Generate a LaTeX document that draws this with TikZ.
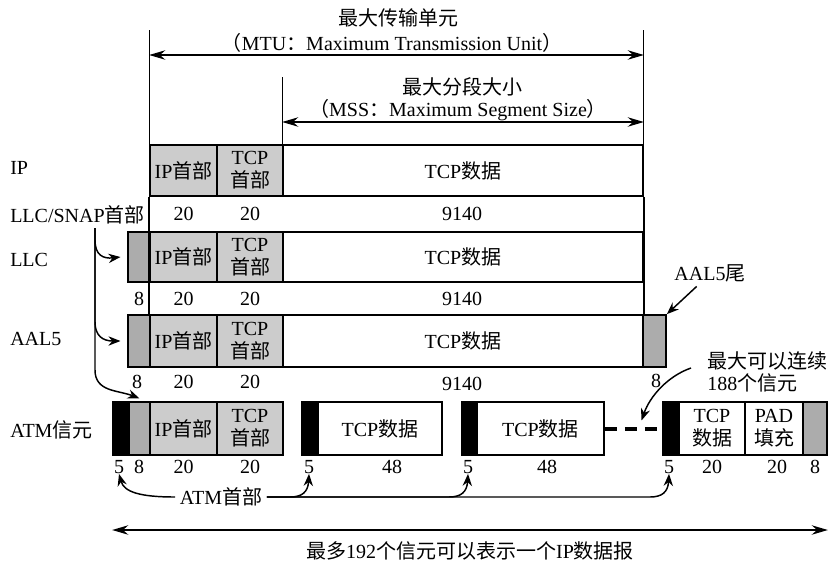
\documentclass[tikz,border=0pt]{standalone}
\usepackage{fontspec}
\setmainfont{Liberation Serif}
\newfontfamily\cjk{Noto Sans CJK SC}
\usetikzlibrary{arrows.meta,positioning,fit,calc}
\newcommand{\zh}[1]{{\cjk #1}}

\begin{document}
\begin{tikzpicture}[
        x=0.75pt, y=-0.75pt,
        font=\fontsize{15}{17}\selectfont,
        every label/.style = {align=center, inner sep=0pt},
        box/.style = {draw, line width=1.3pt, inner sep=0pt},
        hdr/.style = {box, fill=gray!40},
        snap/.style = {box, fill=gray!65},
        cellhdr/.style = {box, fill=black},
        datbox/.style = {box, fill=white},
        num/.style = {inner sep=0pt},
        lbl/.style = {anchor=west, inner sep=0pt},
        guide/.style = {line width=0.7pt},
        arr/.style = {-{Stealth[length=9pt,width=7pt]}, line width=1.1pt},
        spanarr/.style = {{Stealth[length=12pt,width=7pt]}-{Stealth[length=12pt,width=7pt]}, line width=1.6pt}
    ]
    \useasboundingbox (0,0) rectangle (832,562);

    % Titles MTU / MSS
    \node (mtuTitle) at (398,18) {\zh{最大传输单元}};
    \node (mtuName) at (392,43) {\zh{（}MTU\zh{：}Maximum Transmission Unit\zh{）}};
    \node (mssTitle) at (462,87) {\zh{最大分段大小}};
    \node (mssName) at (458,110) {\zh{（}MSS\zh{：}Maximum Segment Size\zh{）}};

    % IP row
    \node [hdr, fit={(150,145) (217,196)}, label={center:IP\zh{首部}}] (ipH) {};
    \node [hdr, fit={(217,145) (283,196)}, label={center:TCP\\\zh{首部}}] (ipT) {};
    \node [datbox, fit={(283,145) (643,196)}, label={center:TCP\zh{数据}}] (ipD) {};

    % LLC row
    \node [snap, fit={(128,232) (150,282)}] (llcS) {};
    \node [hdr, fit={(150,232) (217,282)}, label={center:IP\zh{首部}}] (llcH) {};
    \node [hdr, fit={(217,232) (283,282)}, label={center:TCP\\\zh{首部}}] (llcT) {};
    \node [datbox, fit={(283,232) (643,282)}, label={center:TCP\zh{数据}}] (llcD) {};

    % AAL5 row
    \node [snap, fit={(128,315) (150,367)}] (aS) {};
    \node [hdr, fit={(150,315) (217,367)}, label={center:IP\zh{首部}}] (aH) {};
    \node [hdr, fit={(217,315) (283,367)}, label={center:TCP\\\zh{首部}}] (aT) {};
    \node [datbox, fit={(283,315) (643,367)}, label={center:TCP\zh{数据}}] (aD) {};
    \node [snap, fit={(643,315) (666,367)}] (aTr) {};

    % table sides
    \draw [box] (ipH.south west) -- (aH.north west);
    \draw [box] (ipD.south east) -- (aD.north east);

    % ATM cells
    \node [cellhdr, fit={(113,402) (129,455)}] (c1B) {};
    \node [snap, fit={(129,402) (150,455)}] (c1S) {};
    \node [hdr, fit={(150,402) (217,455)}, label={center:IP\zh{首部}}] (c1H) {};
    \node [hdr, fit={(217,402) (283,455)}, label={center:TCP\\\zh{首部}}] (c1T) {};
    \node [cellhdr, fit={(302,402) (318,455)}] (c2B) {};
    \node [datbox, fit={(318,402) (442,455)}, label={center:TCP\zh{数据}}] (c2D) {};
    \node [cellhdr, fit={(462,402) (477,455)}] (c3B) {};
    \node [datbox, fit={(477,402) (604,455)}, label={center:TCP\zh{数据}}] (c3D) {};
    \node [cellhdr, fit={(663,402) (679,455)}] (c4B) {};
    \node [datbox, fit={(679,402) (745,455)}, label={center:TCP\\\zh{数据}}] (c4D) {};
    \node [datbox, fit={(745,402) (803,455)}, label={center:PAD\\\zh{填充}}] (c4P) {};
    \node [snap, fit={(803,402) (827,455)}] (c4S) {};
    \draw [line width=3pt, dash pattern=on 9pt off 6pt] (c3D.east) -- coordinate[pos=0.64] (dashMid) (c4B.west);

    % MTU / MSS spans
    \coordinate (mtuTop) at (0,30);
    \coordinate (mssTop) at (0,77);
    \coordinate (mtuY) at (0,55);
    \coordinate (mssY) at (0,122);
    \draw [guide] (ipH.north west) -- (ipH.north west |- mtuTop);
    \draw [guide] (ipD.north east) -- (ipD.north east |- mtuTop);
    \draw [guide] (ipD.north west) -- (ipD.north west |- mssTop);
    \draw [spanarr] (ipH.north west |- mtuY) -- (ipD.north east |- mtuY);
    \draw [spanarr] (ipD.north west |- mssY) -- (ipD.north east |- mssY);

    % Byte counts
    \node [num] (ipN1) at (ipH |- 0,214) {20};
    \node [num] (ipN2) at (ipT |- 0,214) {20};
    \node [num] (ipN3) at (462,214) {9140};
    \node [num] (llcN0) at (139,299) {8};
    \node [num] (llcN1) at (llcH |- 0,299) {20};
    \node [num] (llcN2) at (llcT |- 0,299) {20};
    \node [num] (llcN3) at (462,299) {9140};
    \node [num] (aN0) at (137,382) {8};
    \node [num] (aN1) at (aH |- 0,382) {20};
    \node [num] (aN2) at (aT |- 0,382) {20};
    \node [num] (aN3) at (462,384) {9140};
    \node [num] (aN4) at (656,381) {8};
    \node [num] (n5a) at (119,467) {5};
    \node [num] (n8a) at (139,467) {8};
    \node [num] (c1N1) at (c1H |- 0,467) {20};
    \node [num] (c1N2) at (c1T |- 0,467) {20};
    \node [num] (n5b) at (309,467) {5};
    \node [num] (c2N) at (392,467) {48};
    \node [num] (n5c) at (468,467) {5};
    \node [num] (c3N) at (547,467) {48};
    \node [num] (n5d) at (669,467) {5};
    \node [num] (c4N1) at (712,467) {20};
    \node [num] (c4N2) at (777,467) {20};
    \node [num] (c4N3) at (815,467) {8};

    % Row labels
    \node [lbl] (lIp) at (10,168) {IP};
    \node [lbl] (lSnap) at (10,215) {LLC/SNAP\zh{首部}};
    \node [lbl] (lLlc) at (10,260) {LLC};
    \node [lbl] (lAal) at (10,339) {AAL5};
    \node [lbl] (lAtm) at (10,430) {ATM\zh{信元}};

    % LLC/SNAP header arrows
    \coordinate (snapA) at (95,228);
    \draw [arr] (snapA) -- (95,240) .. controls (95,255) and (103,259) .. ([xshift=-5pt]llcS.west);
    \draw [arr] (snapA) -- (95,322) .. controls (95,336) and (103,341) .. ([xshift=-5pt]aS.west);
    \draw [arr] (snapA) -- (95,370) .. controls (95,392) and (118,390) .. ([yshift=2pt]c1S.north);

    % AAL5 trailer and cell count
    \node (aalTail) at (710,273) {AAL5\zh{尾}};
    \draw [arr] ([xshift=-10pt]aalTail.south) -- (aTr.north east);
    \node [lbl, align=left] (maxCells) at (707,372) {\zh{最大可以连续}\\188\zh{个信元}};
    \draw [arr] ([xshift=-12pt,yshift=3pt]maxCells.west) .. controls (668,376) and (650,396) .. ([yshift=6pt]dashMid);

    % ATM header arrows
    \node (atmHdr) at (221,497) {ATM\zh{首部}};
    \draw [arr] (atmHdr.west) .. controls (140,497) and (124,492) .. (n5a.south);
    \draw [arr] (atmHdr.east) -- (290,497) .. controls (302,497) and (308,492) .. (n5b.south);
    \draw [arr] (atmHdr.east) -- (449,497) .. controls (461,497) and (467,492) .. (n5c.south);
    \draw [arr] (atmHdr.east) -- (650,497) .. controls (662,497) and (668,492) .. (n5d.south);

    % Total span
    \coordinate (spanY) at (0,530);
    \draw [spanarr] (c1B.west |- spanY) -- (c4S.east |- spanY);
    \node (total) at (470,551) {\zh{最多}192\zh{个信元可以表示一个}IP\zh{数据报}};

\end{tikzpicture}
\end{document}
